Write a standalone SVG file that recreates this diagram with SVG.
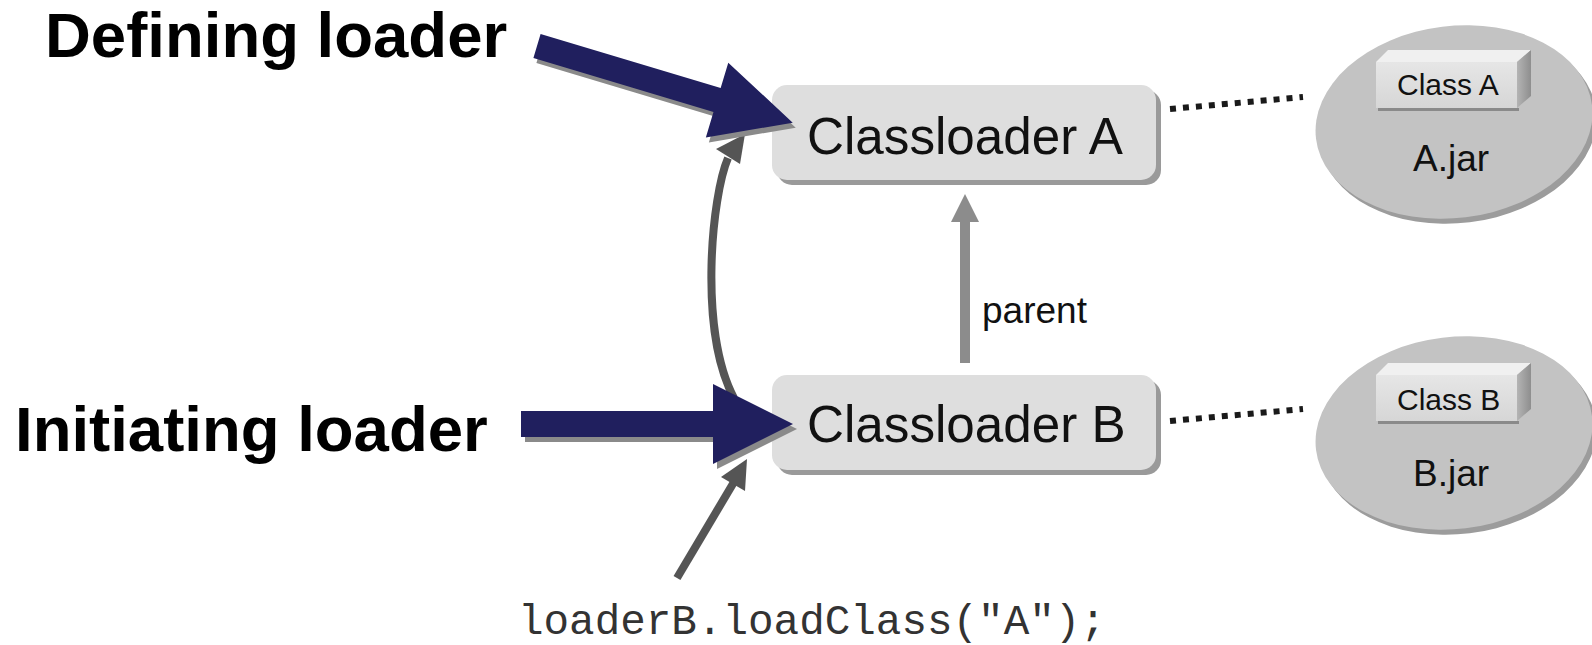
<svg xmlns="http://www.w3.org/2000/svg" width="1592" height="645" viewBox="0 0 1592 645">
  <defs>
    <linearGradient id="faceGrad" x1="0" y1="0" x2="0" y2="1">
      <stop offset="0" stop-color="#e6e6e6"/>
      <stop offset="1" stop-color="#d6d6d6"/>
    </linearGradient>
    <linearGradient id="sideGrad" x1="0" y1="0" x2="1" y2="0">
      <stop offset="0" stop-color="#b4b4b4"/>
      <stop offset="1" stop-color="#8e8e8e"/>
    </linearGradient>
    <polygon id="bigArrow" points="0,-12.5 188,-12.5 188,-39 267,0 188,39 188,12.5 0,12.5"/>
  </defs>
  <style>
    .label { font-family: "Liberation Sans", Arial, sans-serif; fill: #111; }
    .title { font-family: "Liberation Sans", Arial, sans-serif; font-weight: bold; font-size: 63.5px; fill: #000; }
    .code { font-family: "Liberation Mono", "Courier New", monospace; font-size: 42.6px; fill: #333; }
    .loader-shadow { fill: #9a9a9a; }
    .loader { fill: #dedede; }
    .jar-shadow { fill: #9c9c9c; }
    .jar { fill: #c3c3c3; }
    .navy { fill: #201f5e; }
    .navy-shadow { fill: #8a8a8a; }
    .dots { stroke: #1a1a1a; stroke-width: 6; stroke-dasharray: 6 7; fill: none; }
  </style>

  <rect width="1592" height="645" fill="#ffffff"/>

  <!-- side captions -->
  <text class="title" x="45" y="57">Defining loader</text>
  <text class="title" x="15" y="451">Initiating loader</text>

  <!-- class loader A -->
  <g id="classloaderA">
    <rect class="loader-shadow" x="777" y="90" width="384" height="95" rx="15"/>
    <rect class="loader" x="772" y="85" width="384" height="95" rx="15"/>
    <text class="label" x="807" y="154" font-size="51.2">Classloader A</text>
  </g>

  <!-- class loader B -->
  <g id="classloaderB">
    <rect class="loader-shadow" x="777" y="380" width="384" height="95" rx="15"/>
    <rect class="loader" x="772" y="375" width="384" height="95" rx="15"/>
    <text class="label" x="807" y="442" font-size="51.2">Classloader B</text>
  </g>

  <!-- A.jar archive -->
  <g id="jarA">
    <ellipse class="jar-shadow" cx="1458" cy="127" rx="139" ry="96" transform="rotate(-7 1458 127)"/>
    <ellipse class="jar" cx="1454" cy="122" rx="139" ry="96" transform="rotate(-7 1454 122)"/>
    <rect x="1378" y="108" width="141" height="3" fill="#8a8a8a"/>
    <polygon points="1376,62 1388,50 1531,50 1517,62" fill="#f0f0f0"/>
    <polygon points="1517,62 1531,50 1531,96 1517,108" fill="url(#sideGrad)"/>
    <rect x="1376" y="62" width="141" height="46" fill="url(#faceGrad)"/>
    <text class="label" x="1397" y="95" font-size="30">Class A</text>
    <text class="label" x="1413" y="171" font-size="37">A.jar</text>
  </g>

  <!-- B.jar archive -->
  <g id="jarB">
    <ellipse class="jar-shadow" cx="1458" cy="438" rx="139" ry="96" transform="rotate(-7 1458 438)"/>
    <ellipse class="jar" cx="1454" cy="433" rx="139" ry="96" transform="rotate(-7 1454 433)"/>
    <rect x="1378" y="421" width="141" height="3" fill="#8a8a8a"/>
    <polygon points="1376,375 1388,363 1531,363 1517,375" fill="#f0f0f0"/>
    <polygon points="1517,375 1531,363 1531,409 1517,421" fill="url(#sideGrad)"/>
    <rect x="1376" y="375" width="141" height="46" fill="url(#faceGrad)"/>
    <text class="label" x="1397" y="410" font-size="30">Class B</text>
    <text class="label" x="1413" y="486" font-size="37">B.jar</text>
  </g>

  <!-- call site -->
  <g id="callSite">
    <text class="code" x="518" y="634">loaderB.loadClass("A");</text>
  </g>

  <g id="connectors">
    <!-- loaders to their jars -->
    <line class="dots" x1="1170" y1="109" x2="1303" y2="97"/>
    <line class="dots" x1="1170" y1="421" x2="1303" y2="409"/>

    <!-- parent link -->
    <line x1="965" y1="363" x2="965" y2="220" stroke="#8c8c8c" stroke-width="10"/>
    <polygon points="965,194 979,222 951,222" fill="#8c8c8c"/>
    <text class="label" x="982" y="323" font-size="37">parent</text>

    <!-- delegation from B up to A -->
    <path d="M734,398 C698,330 712,195 728,158" fill="none" stroke="#555555" stroke-width="8"/>
    <polygon points="745,134 716,149 740,164" fill="#555555"/>

    <!-- call into loader B -->
    <line x1="677" y1="578" x2="734" y2="482" stroke="#555555" stroke-width="8"/>
    <polygon points="747,459 721,477 745,491" fill="#555555"/>

    <!-- defining loader pointer -->
    <use href="#bigArrow" class="navy-shadow" transform="translate(540,51) rotate(16.7)"/>
    <use href="#bigArrow" class="navy" transform="translate(537,46) rotate(16.7)"/>

    <!-- initiating loader pointer -->
    <polygon class="navy-shadow" points="525,416 717,416 717,389 797,429 717,469 717,442 525,442"/>
    <polygon class="navy" points="521,411 713,411 713,384 793,424 713,464 713,437 521,437"/>
  </g>
</svg>
